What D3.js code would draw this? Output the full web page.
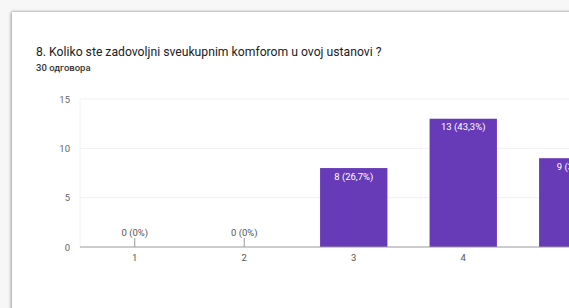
<!DOCTYPE html>
<html>
<head>
<meta charset="utf-8">
<script src="https://cdn.jsdelivr.net/npm/d3@7"></script>
<style>
  body { margin: 0; background: #f7f7f7; font-family: Roboto, "Noto Sans", sans-serif; }
  #card {
    position: absolute; left: 12px; top: 12px; width: 600px; height: 320px;
    background: #fff; box-shadow: -1px 0 3px rgba(0,0,0,0.35), 0 -1px 2px rgba(0,0,0,0.08);
  }
</style>
</head>
<body>
<div id="card"></div>
<div id="container"></div>
<script>
;(function () {
  const categories = ["1", "2", "3", "4", "5"]
  const counts = [0, 0, 8, 13, 9]
  const labels = ["0 (0%)", "0 (0%)", "8 (26,7%)", "13 (43,3%)", "9 (30%)"]
  const yTicks = [0, 5, 10, 15]

  const width = 569
  const height = 308

  const svg = d3.select("#container").append("svg")
    .attr("width", width).attr("height", height)
    .style("position", "absolute").style("left", 0).style("top", 0)

  svg.append("text")
    .attr("x", 36).attr("y", 56)
    .attr("font-size", 12.2).attr("fill", "#202124")
    .text("8. Koliko ste zadovoljni sveukupnim komforom u ovoj ustanovi ?")

  svg.append("text")
    .attr("x", 36).attr("y", 71)
    .attr("font-size", 9.5).attr("font-weight", 500).attr("fill", "#333")
    .text("30 одговора")

  const x = d3.scalePoint().domain(categories).range([80, 627.5]).padding(0.5)
  const barW = x.step() * 0.615
  const y = d3.scaleLinear().domain([0, 15]).range([247, 99])

  // gridlines
  svg.selectAll(".grid")
    .data(yTicks.filter(d => d > 0))
    .join("line")
    .attr("x1", 80).attr("x2", width)
    .attr("y1", d => y(d)).attr("y2", d => y(d))
    .attr("stroke", "#efefef")

  svg.append("line")
    .attr("x1", 80).attr("x2", 80).attr("y1", y(15)).attr("y2", y(0))
    .attr("stroke", "#f2f2f2")

  // y labels
  svg.selectAll(".ylab")
    .data(yTicks)
    .join("text")
    .attr("x", 70).attr("y", d => y(d) + 3.5)
    .attr("text-anchor", "end")
    .attr("font-size", 9.5).attr("fill", "#666")
    .text(d => d)

  // bars
  svg.selectAll(".bar")
    .data(counts)
    .join("rect")
    .attr("x", (d, i) => x(categories[i]) - barW / 2)
    .attr("width", barW)
    .attr("y", d => y(d))
    .attr("height", d => y(0) - y(d))
    .attr("fill", "#673ab7")

  // axis line
  svg.append("line")
    .attr("x1", 80).attr("x2", width).attr("y1", y(0)).attr("y2", y(0))
    .attr("stroke", "#999").attr("stroke-width", 1.2)

  // zero markers
  svg.selectAll(".zero")
    .data(counts.map((d, i) => ({ d, i })).filter(o => o.d === 0))
    .join("line")
    .attr("x1", o => x(categories[o.i])).attr("x2", o => x(categories[o.i]))
    .attr("y1", y(0) - 9).attr("y2", y(0))
    .attr("stroke", "#999")

  // bar labels
  svg.selectAll(".blab")
    .data(counts)
    .join("text")
    .attr("x", (d, i) => x(categories[i]))
    .attr("y", d => d === 0 ? y(0) - 11 : y(d) + 11.5)
    .attr("text-anchor", "middle")
    .attr("font-size", 9.5)
    .attr("fill", d => d === 0 ? "#555" : "#fff")
    .text((d, i) => labels[i])

  // x labels
  svg.selectAll(".xlab")
    .data(categories)
    .join("text")
    .attr("x", d => x(d)).attr("y", 261)
    .attr("text-anchor", "middle")
    .attr("font-size", 9.5).attr("fill", "#555")
    .text(d => d)
})()
</script>
</body>
</html>
